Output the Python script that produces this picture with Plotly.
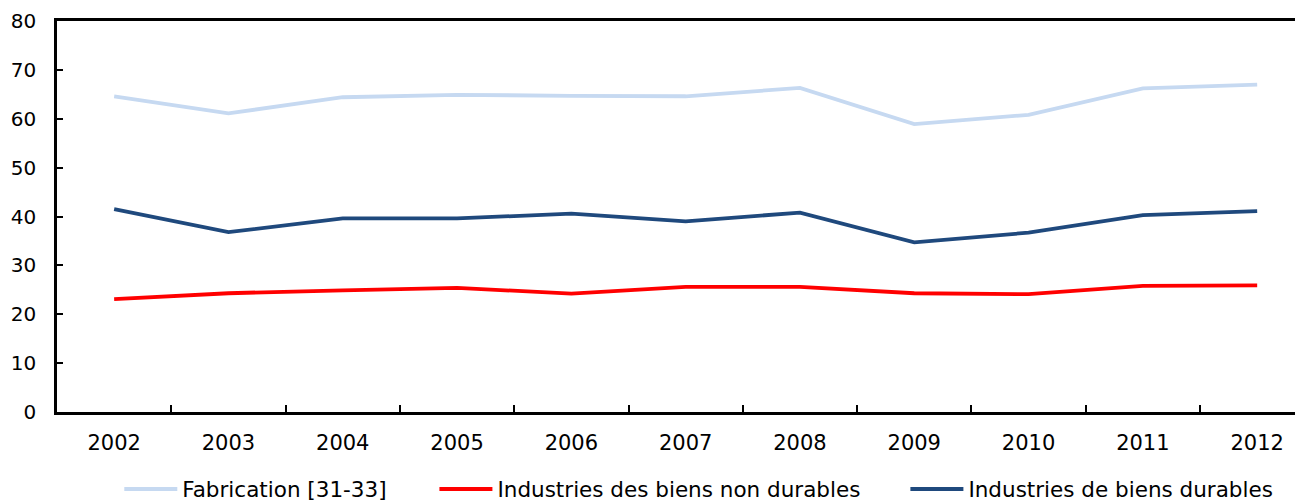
import plotly.graph_objects as go

years = ["2002", "2003", "2004", "2005", "2006", "2007", "2008", "2009", "2010", "2011", "2012"]
fabrication = [64.6, 61.1, 64.4, 64.9, 64.7, 64.6, 66.3, 58.9, 60.8, 66.2, 67.0]
non_durables = [23.1, 24.3, 24.9, 25.4, 24.2, 25.6, 25.6, 24.3, 24.1, 25.8, 25.9]
durables = [41.5, 36.8, 39.6, 39.6, 40.6, 39.0, 40.8, 34.7, 36.7, 40.3, 41.1]

names = ["Fabrication [31-33]", "Industries des biens non durables", "Industries de biens durables"]
colors = ["#C6D9F1", "#FF0000", "#1F497D"]
legend_ids = ["legend", "legend2", "legend3"]
legend_x = [0.050, 0.3029, 0.6809]

FONT = "DejaVu Sans, Verdana, sans-serif"

fig = go.Figure()
for name, vals, col, lid in zip(names, [fabrication, non_durables, durables], colors, legend_ids):
    fig.add_trace(go.Scatter(x=years, y=vals, name=name, mode="lines",
                             line=dict(color=col, width=3.8), legend=lid))

leg_common = dict(orientation="h", xanchor="left", y=-0.197, yanchor="middle",
                  font=dict(size=21.5, family=FONT), itemwidth=53,
                  bgcolor="rgba(0,0,0,0)", borderwidth=0)
layout_legends = {}
for lid, lx in zip(legend_ids, legend_x):
    layout_legends[lid] = dict(leg_common, x=lx)

# page body has an 8px margin, so the figure is shifted by 8px right/down
fig.update_layout(
    width=1295, height=494,
    margin=dict(l=49, r=0, t=13, b=90, autoexpand=False),
    plot_bgcolor="white", paper_bgcolor="white",
    font=dict(family=FONT, size=21, color="black"),
    showlegend=True,
    xaxis=dict(type="category", range=[-0.5, 10.401], showgrid=False,
               showline=True, linecolor="black", linewidth=2.5, mirror=True,
               ticks="inside", tickson="boundaries", ticklen=7, tickwidth=2, tickcolor="black",
               ticklabelstandoff=10, tickfont=dict(size=21), automargin=False),
    yaxis=dict(range=[0, 80], dtick=10, showgrid=False, zeroline=False,
               showline=True, linecolor="black", linewidth=2.5,
               ticks="inside", ticklen=6, tickwidth=2, tickcolor="black",
               ticklabelstandoff=14, tickfont=dict(size=20), automargin=False),
    **layout_legends,
)

fig.write_html("out.html")
